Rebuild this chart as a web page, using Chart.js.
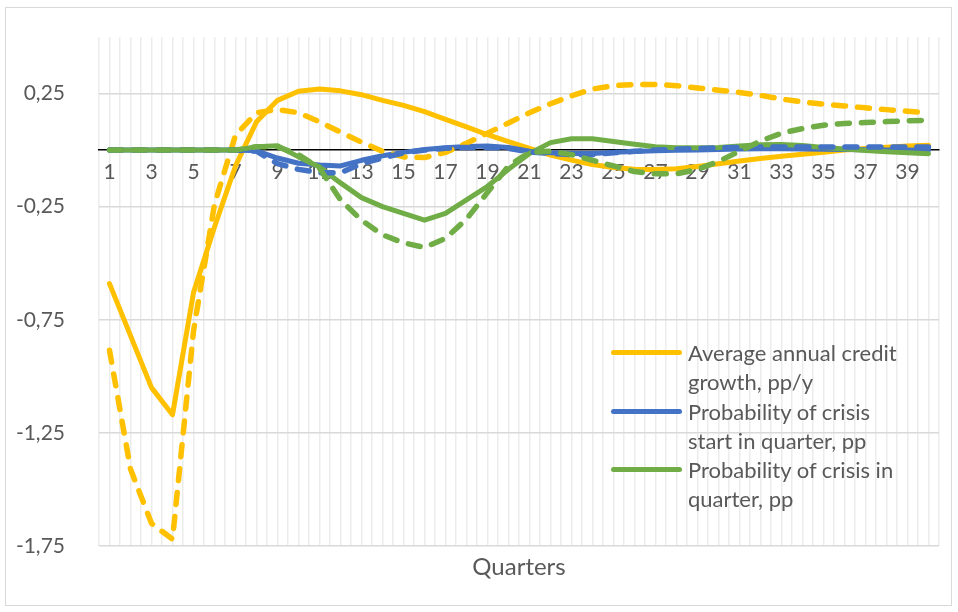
<!DOCTYPE html>
<html>
<head>
<meta charset="utf-8">
<script src="https://cdn.jsdelivr.net/npm/chart.js@4"></script>
<style>
  body { margin: 0; background: #fff; }
  #wrap { position: relative; width: 958px; height: 612px; }
  #frame { position: absolute; left: 5px; top: 7px; width: 945px; height: 597px; border: 1px solid #d9d9d9; pointer-events: none; }
  #legend { position: absolute; left: 611px; top: 338px; font-family: Lato, sans-serif; font-size: 22px; color: #595959; line-height: 29.3px; }
  .item { display: flex; align-items: flex-start; }
  .swatch { flex: none; width: 71px; height: 5px; border-radius: 3px; margin-top: 12px; margin-right: 6px; }
  .text { width: 222px; }
</style>
</head>
<body>
<div id="wrap">
  <canvas id="chart" width="958" height="612"></canvas>
  <div id="frame"></div>
  <div id="legend"></div>
</div>
<script>
const quarters = [1, 2, 3, 4, 5, 6, 7, 8, 9, 10, 11, 12, 13, 14, 15, 16, 17, 18, 19, 20,
  21, 22, 23, 24, 25, 26, 27, 28, 29, 30, 31, 32, 33, 34, 35, 36, 37, 38, 39, 40];

const yTicks = [-1.75, -1.25, -0.75, -0.25, 0.25];

// solid lines
const creditGrowth = [-0.59, -0.82, -1.05, -1.17, -0.63, -0.34, -0.07, 0.125, 0.22, 0.26,
  0.27, 0.262, 0.245, 0.22, 0.198, 0.17, 0.136, 0.103, 0.068, 0.037,
  0.008, -0.022, -0.044, -0.064, -0.077, -0.085, -0.086, -0.082, -0.072, -0.06,
  -0.048, -0.037, -0.027, -0.018, -0.009, 0, 0.007, 0.013, 0.018, 0.022];
const crisisStart = [0, 0, 0, 0, 0, 0, 0, -0.003, -0.035, -0.058,
  -0.066, -0.07, -0.045, -0.025, -0.01, 0.003, 0.01, 0.016, 0.018, 0.012,
  -0.005, -0.012, -0.015, -0.015, -0.01, -0.006, -0.003, -0.001, 0.001, 0.003,
  0.005, 0.006, 0.006, 0.005, 0.004, 0.003, 0.002, 0.001, 0, -0.001];
const crisisProb = [0, 0, 0, 0, 0, 0, 0, 0.015, 0.019, -0.03,
  -0.075, -0.145, -0.21, -0.25, -0.28, -0.31, -0.28, -0.22, -0.16, -0.085,
  -0.015, 0.033, 0.05, 0.05, 0.038, 0.026, 0.015, 0.01, 0.01, 0.012,
  0.018, 0.024, 0.025, 0.02, 0.012, 0.005, -0.002, -0.007, -0.012, -0.016];

// dashed lines
const creditGrowthAlt = [-0.885, -1.41, -1.65, -1.72, -0.8, -0.24, 0.066, 0.165, 0.18, 0.165,
  0.125, 0.08, 0.035, -0.005, -0.03, -0.033, -0.01, 0.03, 0.075, 0.12,
  0.165, 0.205, 0.24, 0.27, 0.285, 0.29, 0.29, 0.285, 0.275, 0.265,
  0.255, 0.242, 0.226, 0.213, 0.203, 0.195, 0.187, 0.179, 0.172, 0.165];
const crisisStartAlt = [0, 0, 0, 0, 0, 0, 0, -0.005, -0.06, -0.085,
  -0.1, -0.1, -0.06, -0.035, -0.012, 0, 0.008, 0.012, 0.012, 0.008,
  -0.008, -0.015, -0.02, -0.02, -0.012, -0.005, 0, 0.004, 0.007, 0.01,
  0.012, 0.014, 0.014, 0.014, 0.014, 0.014, 0.014, 0.014, 0.014, 0.014];
const crisisProbAlt = [0, 0, 0, 0, 0, 0, 0, 0.015, 0.015, -0.02,
  -0.08, -0.22, -0.31, -0.374, -0.41, -0.43, -0.39, -0.305, -0.187, -0.07,
  -0.01, -0.005, -0.02, -0.045, -0.07, -0.095, -0.105, -0.105, -0.085, -0.05,
  -0.005, 0.04, 0.075, 0.095, 0.11, 0.118, 0.122, 0.126, 0.13, 0.132];

const names = ["Average annual credit growth, pp/y",
  "Probability of crisis start in quarter, pp",
  "Probability of crisis in quarter, pp"];
const colors = ["#FFC000", "#4472C4", "#70AD47"];

function points(values) {
  return values.map((v, i) => ({ x: quarters[i], y: v }));
}

function line(label, values, color, dashed, order) {
  return {
    label,
    data: points(values),
    borderColor: color,
    backgroundColor: color,
    borderWidth: dashed ? 5.5 : 5,
    borderDash: dashed ? [12, 12] : [],
    borderCapStyle: "round",
    borderJoinStyle: "round",
    pointRadius: 0,
    tension: 0,
    order
  };
}

const datasets = [
  line(names[0], creditGrowth, colors[0], false, 6),
  line(names[1], crisisStart, colors[1], false, 5),
  line(names[2], crisisProb, colors[2], false, 4),
  line(names[0] + " (alt.)", creditGrowthAlt, colors[0], true, 3),
  line(names[1] + " (alt.)", crisisStartAlt, colors[1], true, 2),
  line(names[2] + " (alt.)", crisisProbAlt, colors[2], true, 1)
];

const tickFont = { family: "Lato", size: 21 };
const grey = "#595959";

const chart = new Chart(document.getElementById("chart"), {
  type: "line",
  data: { datasets },
  options: {
    responsive: false,
    animation: false,
    devicePixelRatio: 1,
    layout: { padding: { top: 37, right: 19, left: 0, bottom: 0 } },
    plugins: { legend: { display: false }, tooltip: { enabled: false } },
    scales: {
      x: {
        type: "linear",
        position: { y: 0 },
        min: 0.5,
        max: 40.5,
        afterBuildTicks: (scale) => {
          let ticks = [];
          for (let q = 0.5; q <= 40.5; q += 0.5) ticks.push({ value: q });
          scale.ticks = ticks;
        },
        ticks: {
          autoSkip: false,
          maxRotation: 0,
          padding: 10,
          color: grey,
          font: tickFont,
          callback: (v) => (quarters.includes(v) && v % 2 === 1 ? String(v) : "")
        },
        grid: { color: "#ececec", lineWidth: 1.5, drawTicks: false },
        border: { display: true, color: "#000", width: 1.5 }
      },
      x2: {
        type: "linear",
        position: "bottom",
        min: 0.5,
        max: 40.5,
        afterFit: (scale) => { scale.height = 66; },
        ticks: { display: false },
        grid: { display: false },
        border: { display: false },
        title: {
          display: true,
          text: "Quarters",
          color: grey,
          font: { family: "Lato", size: 24 },
          padding: { top: 0, bottom: 30 }
        }
      },
      y: {
        min: -1.75,
        max: 0.5,
        afterFit: (scale) => {
          scale.width = 99;
          scale.paddingTop = 0;
          scale.paddingBottom = 0;
        },
        afterBuildTicks: (scale) => {
          scale.ticks = yTicks.map((v) => ({ value: v }));
        },
        ticks: {
          padding: 34,
          color: grey,
          font: tickFont,
          callback: (v) => String(v).replace(".", ",")
        },
        grid: { color: "#d9d9d9", lineWidth: 1.5, drawTicks: false },
        border: { display: false }
      }
    }
  }
});

// legend inside the plot, solid series only
const legend = document.getElementById("legend");
names.forEach((name, i) => {
  const item = document.createElement("div");
  item.className = "item";
  const sw = document.createElement("div");
  sw.className = "swatch";
  sw.style.background = colors[i];
  const txt = document.createElement("div");
  txt.className = "text";
  txt.textContent = name;
  item.appendChild(sw);
  item.appendChild(txt);
  legend.appendChild(item);
});
</script>
</body>
</html>
